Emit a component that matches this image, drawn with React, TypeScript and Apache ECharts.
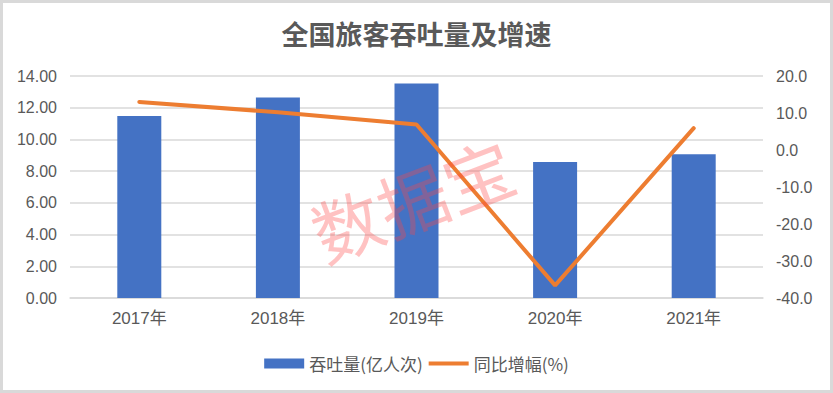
import React, { useEffect, useRef } from "react";
import * as echarts from "echarts";

const categories = ["2017年", "2018年", "2019年", "2020年", "2021年"];
const throughput = [11.48, 12.65, 13.52, 8.57, 9.07];
const growth = [13.0, 10.2, 6.9, -36.6, 5.9];
const titleText = "全国旅客吞吐量及增速";
const barName = "吞吐量(亿人次)";
const lineName = "同比增幅(%)";
const watermark = "数据宝";

export default function App() {
  const ref = useRef<HTMLDivElement>(null);
  useEffect(() => {
    document.body.style.margin = "0";
    const chart = echarts.init(ref.current!, null, { renderer: "svg" });
    const labelFont = "'Liberation Sans', 'Noto Sans CJK SC', sans-serif";
    chart.setOption({
      animation: false,
      backgroundColor: "#ffffff",
      title: {
        text: titleText,
        left: "center",
        top: 15,
        textStyle: {
          fontSize: 27,
          fontWeight: "bold",
          color: "#595959",
          fontFamily: "'Noto Sans CJK SC', sans-serif",
        },
      },
      legend: {
        left: "center",
        top: 350,
        itemWidth: 40,
        itemHeight: 10,
        itemGap: 6,
        textStyle: {
          fontSize: 17,
          color: "#595959",
          fontFamily: "'Noto Sans CJK SC', sans-serif",
        },
        data: [
          { name: barName, icon: "rect" },
          { name: lineName, icon: "path://M0,0 L40,0 L40,4 L0,4 Z" },
        ],
      },
      grid: { left: 70, right: 70, top: 76, bottom: 95 },
      xAxis: {
        type: "category",
        data: categories,
        axisLine: { lineStyle: { color: "#d9d9d9", width: 1.5 } },
        axisTick: { show: false },
        axisLabel: {
          color: "#595959",
          fontSize: 17,
          margin: 12,
          fontFamily: labelFont,
        },
      },
      yAxis: [
        {
          type: "value",
          min: 0,
          max: 14,
          interval: 2,
          axisLine: { show: false },
          axisTick: { show: false },
          splitLine: { lineStyle: { color: "#d9d9d9", width: 1.5 } },
          axisLabel: {
            color: "#595959",
            fontSize: 16,
            margin: 13,
            fontFamily: labelFont,
            formatter: (v: number) => v.toFixed(2),
          },
        },
        {
          type: "value",
          min: -40,
          max: 20,
          interval: 10,
          axisLine: { show: false },
          axisTick: { show: false },
          splitLine: { show: false },
          axisLabel: {
            color: "#595959",
            fontSize: 16,
            margin: 13,
            fontFamily: labelFont,
            formatter: (v: number) => v.toFixed(1),
          },
        },
      ],
      series: [
        {
          name: barName,
          type: "bar",
          data: throughput,
          barWidth: 44,
          itemStyle: { color: "#4472C4" },
          yAxisIndex: 0,
        },
        {
          name: lineName,
          type: "line",
          data: growth,
          yAxisIndex: 1,
          symbol: "none",
          showSymbol: false,
          lineStyle: { color: "#ED7D31", width: 4, cap: "round" },
          itemStyle: { color: "#ED7D31" },
        },
      ],
      graphic: [
        {
          type: "text",
          x: 412,
          y: 198,
          rotation: (21 * Math.PI) / 180,
          z: 100,
          style: {
            text: watermark,
            fontSize: 70,
            fill: "rgba(255, 70, 70, 0.33)",
            fontFamily: "'Noto Sans CJK SC', sans-serif",
            fontWeight: "normal",
            align: "center",
            verticalAlign: "middle",
          },
        },
      ],
    });
    return () => chart.dispose();
  }, []);
  return (
    <div
      style={{
        width: 833,
        height: 393,
        boxSizing: "border-box",
        border: "3px solid #d9d9d9",
        position: "relative",
        overflow: "hidden",
      }}
    >
      <div
        ref={ref}
        style={{ position: "absolute", left: -3, top: -3, width: 833, height: 393 }}
      />
    </div>
  );
}
